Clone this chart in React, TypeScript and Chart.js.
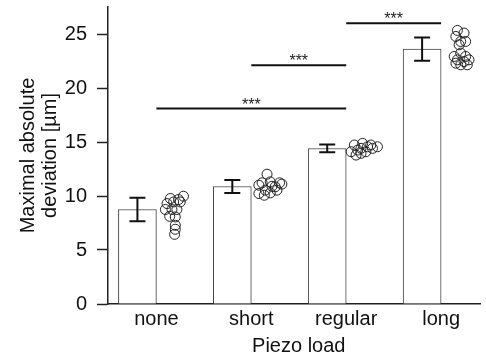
import React, { useEffect, useRef } from "react";
import { Chart, registerables } from "chart.js";

Chart.register(...registerables);

const categories = ["none", "short", "regular", "long"];
const means = [8.75, 10.88, 14.4, 23.6];
const sems = [1.08, 0.6, 0.36, 1.08];

const noneValues = [9.98, 9.67, 9.77, 9.3, 9.45, 9.45, 8.75, 8.75, 8.75, 8.12, 8.06, 7.29, 6.92, 6.45];
const noneJitter = [0.285, 0.233, 0.147, 0.112, 0.182, 0.251, 0.095, 0.164, 0.216, 0.14, 0.199, 0.199, 0.199, 0.192];
const shortValues = [12.02, 11.22, 11.31, 11.22, 11.0, 10.85, 11.1, 10.54, 10.23, 10.07, 10.29, 10.54, 10.9];
const shortJitter = [0.166, 0.114, 0.2, 0.298, 0.08, 0.252, 0.322, 0.148, 0.08, 0.137, 0.2, 0.27, 0.218];
const regularValues = [14.87, 14.72, 14.72, 14.56, 14.1, 14.25, 14.1, 14.41, 13.79, 13.95, 14.56, 14.41];
const regularJitter = [0.173, 0.086, 0.259, 0.329, 0.052, 0.121, 0.207, 0.277, 0.104, 0.156, 0.225, 0.156];
const longValues = [25.33, 25.09, 24.77, 24.31, 24.31, 24.0, 23.23, 22.92, 22.92, 22.61, 22.45, 22.61, 22.3, 22.15, 22.15];
const longJitter = [0.172, 0.242, 0.156, 0.207, 0.259, 0.19, 0.207, 0.138, 0.259, 0.172, 0.242, 0.294, 0.156, 0.207, 0.276];

const groupValues = [noneValues, shortValues, regularValues, longValues];
const groupJitter = [noneJitter, shortJitter, regularJitter, longJitter];

const sigFrom = [1, 2, 3];
const sigTo = [3, 3, 4];
const sigHeight = [18.1, 22.1, 26.0];
const sigLabel = ["***", "***", "***"];

const yTicks = [0, 5, 10, 15, 20, 25];
const yTitle = ["Maximal absolute", "deviation [µm]"];
const xTitle = "Piezo load";

const BAR_OFFSET = -0.2;
const FONT = "'Liberation Sans', Arial, sans-serif";

const overlayPlugin = {
  id: "overlay",
  afterDatasetsDraw(chart: any) {
    const ctx = chart.ctx;
    const xs = chart.scales.x;
    const ys = chart.scales.y;
    ctx.save();
    // error bars
    ctx.strokeStyle = "#111";
    ctx.lineWidth = 2;
    means.forEach((m, i) => {
      const x = xs.getPixelForValue(i + 1 + BAR_OFFSET);
      const yt = ys.getPixelForValue(m + sems[i]);
      const yb = ys.getPixelForValue(m - sems[i]);
      ctx.beginPath();
      ctx.moveTo(x, yt);
      ctx.lineTo(x, yb);
      ctx.moveTo(x - 8, yt);
      ctx.lineTo(x + 8, yt);
      ctx.moveTo(x - 8, yb);
      ctx.lineTo(x + 8, yb);
      ctx.stroke();
    });
    // significance
    sigFrom.forEach((f, i) => {
      const x1 = xs.getPixelForValue(f);
      const x2 = xs.getPixelForValue(sigTo[i]);
      const y = ys.getPixelForValue(sigHeight[i]);
      ctx.strokeStyle = "#111";
      ctx.lineWidth = 2;
      ctx.beginPath();
      ctx.moveTo(x1, y);
      ctx.lineTo(x2, y);
      ctx.stroke();
      ctx.fillStyle = "#222";
      ctx.font = "16px " + FONT;
      ctx.textAlign = "center";
      ctx.textBaseline = "alphabetic";
      ctx.fillText(sigLabel[i], (x1 + x2) / 2, y + 1);
    });
    // x title
    ctx.fillStyle = "#111";
    ctx.font = "20px " + FONT;
    ctx.textAlign = "center";
    ctx.textBaseline = "alphabetic";
    ctx.fillText(xTitle, xs.getPixelForValue((1 + categories.length) / 2), 352);
    ctx.restore();
  },
};

export default function App() {
  const ref = useRef<HTMLCanvasElement | null>(null);
  useEffect(() => {
    if (!ref.current) return;
    const barData = means.map((m, i) => ({ x: i + 1 + BAR_OFFSET, y: m }));
    const pointData: { x: number; y: number }[] = [];
    groupValues.forEach((vals, g) => {
      vals.forEach((v, j) => pointData.push({ x: g + 1 + groupJitter[g][j], y: v }));
    });
    const chart = new Chart(ref.current, {
      type: "bar",
      data: {
        datasets: [
          {
            type: "bar",
            data: barData as any,
            backgroundColor: "#ffffff",
            borderColor: "#444",
            borderWidth: 1,
            barThickness: 38,
            grouped: false,
            order: 2,
          } as any,
          {
            type: "scatter",
            data: pointData as any,
            pointRadius: 5,
            pointStyle: "circle",
            borderColor: "#222",
            borderWidth: 1,
            backgroundColor: "rgba(0,0,0,0)",
            showLine: false,
            order: 1,
          } as any,
        ],
      },
      options: {
        animation: false,
        responsive: false,
        devicePixelRatio: 1,
        layout: { padding: { top: 7, right: 0, left: 0, bottom: 0 } },
        plugins: { legend: { display: false }, tooltip: { enabled: false } },
        scales: {
          x: {
            type: "linear",
            offset: false,
            min: 0.49,
            max: 4.41,
            afterBuildTicks: (s: any) => {
              s.ticks = categories.map((_, i) => ({ value: i + 1 }));
            },
            afterFit: (s: any) => {
              s.height = 52;
              s.paddingLeft = 0;
              s.paddingRight = 0;
            },
            ticks: {
              callback: (v: any) => categories[Math.round(v) - 1] ?? null,
              font: { size: 20, family: FONT },
              color: "#111",
              padding: 3,
              autoSkip: false,
              maxRotation: 0,
            },
            grid: { display: false, drawTicks: false, offset: false },
            border: { display: true, color: "#222", width: 1.5 },
          },
          y: {
            type: "linear",
            min: 0,
            max: 27.5,
            afterBuildTicks: (s: any) => {
              const t: any[] = [];
              for (let v = 0; v <= 27.5 + 1e-9; v += 2.5) t.push({ value: v });
              s.ticks = t;
            },
            afterFit: (s: any) => {
              s.width = 108;
              s.paddingTop = 0;
              s.paddingBottom = 0;
            },
            ticks: {
              callback: (v: any) => (yTicks.includes(v) ? String(v) : null),
              font: { size: 20, family: FONT },
              color: "#111",
              padding: 10,
              autoSkip: false,
            },
            grid: {
              drawOnChartArea: false,
              drawTicks: true,
              tickLength: 11,
              tickColor: "#222",
              tickWidth: 1.5,
            },
            border: { display: true, color: "#222", width: 1.5 },
            title: {
              display: true,
              text: yTitle,
              font: { size: 20, family: FONT, lineHeight: 1.08 },
              color: "#111",
              padding: { top: 18, bottom: 0 },
            },
          },
        },
      },
      plugins: [overlayPlugin],
    });
    return () => chart.destroy();
  }, []);
  return (
    <div style={{ position: "fixed", left: 0, top: 0, width: 486, height: 356, background: "#fff" }}>
      <canvas ref={ref} width={486} height={356} style={{ width: 486, height: 356, display: "block" }} />
    </div>
  );
}
